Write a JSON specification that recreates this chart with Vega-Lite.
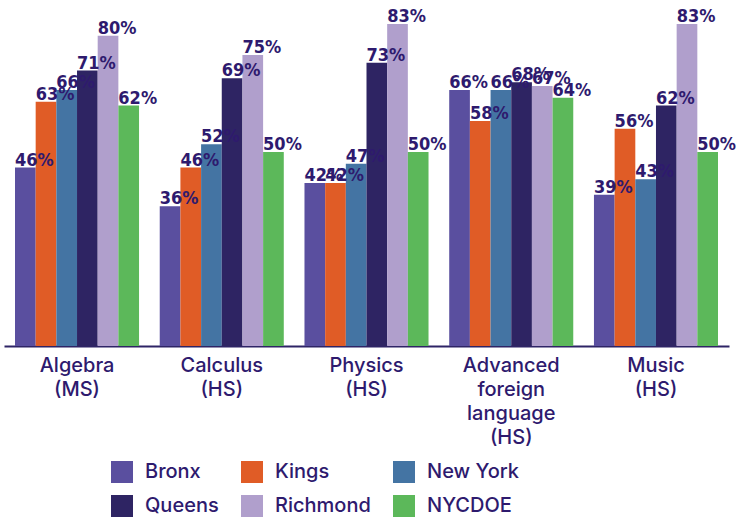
{
  "$schema": "https://vega.github.io/schema/vega-lite/v6.json",
  "width": 725,
  "height": 346,
  "autosize": "none",
  "padding": {"left": 4, "top": 0, "right": 7, "bottom": 174},
  "background": "white",
  "config": {"view": {"stroke": null}},
  "data": {
    "values": [
      {"subject": "Algebra|(MS)", "borough": "Bronx", "value": 0.46},
      {"subject": "Algebra|(MS)", "borough": "Kings", "value": 0.63},
      {"subject": "Algebra|(MS)", "borough": "New York", "value": 0.66},
      {"subject": "Algebra|(MS)", "borough": "Queens", "value": 0.71},
      {"subject": "Algebra|(MS)", "borough": "Richmond", "value": 0.80},
      {"subject": "Algebra|(MS)", "borough": "NYCDOE", "value": 0.62},
      {"subject": "Calculus|(HS)", "borough": "Bronx", "value": 0.36},
      {"subject": "Calculus|(HS)", "borough": "Kings", "value": 0.46},
      {"subject": "Calculus|(HS)", "borough": "New York", "value": 0.52},
      {"subject": "Calculus|(HS)", "borough": "Queens", "value": 0.69},
      {"subject": "Calculus|(HS)", "borough": "Richmond", "value": 0.75},
      {"subject": "Calculus|(HS)", "borough": "NYCDOE", "value": 0.50},
      {"subject": "Physics|(HS)", "borough": "Bronx", "value": 0.42},
      {"subject": "Physics|(HS)", "borough": "Kings", "value": 0.42},
      {"subject": "Physics|(HS)", "borough": "New York", "value": 0.47},
      {"subject": "Physics|(HS)", "borough": "Queens", "value": 0.73},
      {"subject": "Physics|(HS)", "borough": "Richmond", "value": 0.83},
      {"subject": "Physics|(HS)", "borough": "NYCDOE", "value": 0.50},
      {"subject": "Advanced|foreign|language|(HS)", "borough": "Bronx", "value": 0.66},
      {"subject": "Advanced|foreign|language|(HS)", "borough": "Kings", "value": 0.58},
      {"subject": "Advanced|foreign|language|(HS)", "borough": "New York", "value": 0.66},
      {"subject": "Advanced|foreign|language|(HS)", "borough": "Queens", "value": 0.68},
      {"subject": "Advanced|foreign|language|(HS)", "borough": "Richmond", "value": 0.67},
      {"subject": "Advanced|foreign|language|(HS)", "borough": "NYCDOE", "value": 0.64},
      {"subject": "Music|(HS)", "borough": "Bronx", "value": 0.39},
      {"subject": "Music|(HS)", "borough": "Kings", "value": 0.56},
      {"subject": "Music|(HS)", "borough": "New York", "value": 0.43},
      {"subject": "Music|(HS)", "borough": "Queens", "value": 0.62},
      {"subject": "Music|(HS)", "borough": "Richmond", "value": 0.83},
      {"subject": "Music|(HS)", "borough": "NYCDOE", "value": 0.50}
    ]
  },
  "encoding": {
    "x": {
      "field": "subject",
      "type": "nominal",
      "sort": ["Algebra|(MS)", "Calculus|(HS)", "Physics|(HS)", "Advanced|foreign|language|(HS)", "Music|(HS)"],
      "scale": {"paddingInner": 0.143, "paddingOuter": 0.076},
      "axis": {
        "title": null,
        "labelAngle": 0,
        "ticks": false,
        "domain": true,
        "domainColor": "#2E2466",
        "domainWidth": 2,
        "labelFont": "Inter",
        "labelFontSize": 20,
        "labelFontWeight": 500,
        "labelColor": "#2E1A6E",
        "labelPadding": 9,
        "labelLineHeight": 24,
        "labelExpr": "split(datum.label, '|')"
      }
    },
    "xOffset": {
      "field": "borough",
      "type": "nominal",
      "sort": ["Bronx", "Kings", "New York", "Queens", "Richmond", "NYCDOE"],
      "scale": {"paddingInner": 0, "paddingOuter": 0}
    },
    "y": {
      "field": "value",
      "type": "quantitative",
      "scale": {"domain": [0, 0.892], "nice": false},
      "axis": null
    }
  },
  "layer": [
    {
      "mark": {"type": "bar"},
      "encoding": {
        "color": {
          "field": "borough",
          "type": "nominal",
          "sort": ["Bronx", "Kings", "New York", "Queens", "Richmond", "NYCDOE"],
          "scale": {
            "domain": ["Bronx", "Kings", "New York", "Queens", "Richmond", "NYCDOE"],
            "range": ["#5A4F9F", "#E05C26", "#4474A3", "#2E2463", "#B09FCC", "#5CB85A"]
          },
          "legend": {
            "orient": "none",
            "legendX": 107,
            "legendY": 461,
            "direction": "horizontal",
            "columns": 3,
            "title": null,
            "symbolType": "square",
            "symbolSize": 484,
            "symbolStrokeWidth": 0,
            "labelFont": "Inter",
            "labelFontSize": 20,
            "labelFontWeight": 500,
            "labelColor": "#2E1A6E",
            "labelOffset": 12,
            "columnPadding": 22,
            "rowPadding": 12,
            "encode": {
              "symbols": {
                "enter": {
                  "fill": {"signal": "datum.value === 'Bronx' ? '#5B2BE0' : datum.value === 'Kings' ? '#E05A2B' : datum.value === 'New York' ? '#4A72A4' : datum.value === 'Queens' ? '#2E1470' : datum.value === 'Richmond' ? '#B8A4EC' : '#2EDB5C'"}
                },
                "update": {
                  "fill": {"signal": "datum.value === 'Bronx' ? '#5B2BE0' : datum.value === 'Kings' ? '#E05A2B' : datum.value === 'New York' ? '#4A72A4' : datum.value === 'Queens' ? '#2E1470' : datum.value === 'Richmond' ? '#B8A4EC' : '#2EDB5C'"},
                  "opacity": {"value": 1}
                }
              }
            }
          }
        }
      }
    },
    {
      "mark": {
        "type": "text",
        "align": "left",
        "baseline": "alphabetic",
        "dx": -10.35,
        "dy": -2,
        "font": "DejaVu Sans Condensed",
        "fontWeight": "bold",
        "fontSize": 18,
        "color": "#2E1A6E"
      },
      "encoding": {
        "text": {"field": "value", "type": "quantitative", "format": ".0%"}
      }
    }
  ]
}
